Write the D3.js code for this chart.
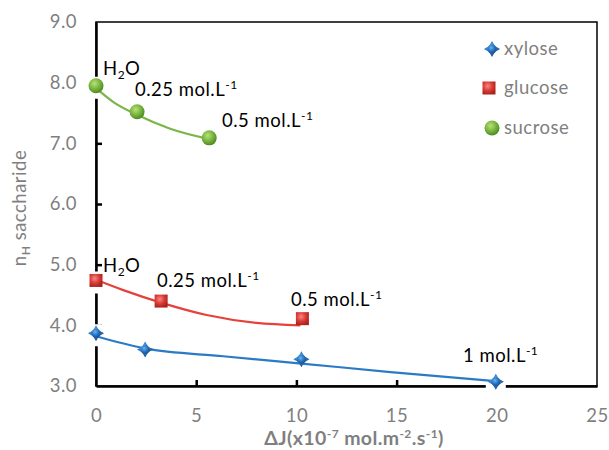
<!DOCTYPE html>
<html><head><meta charset="utf-8">
<script src="https://cdn.jsdelivr.net/npm/d3@7/dist/d3.min.js"></script>
<style>body{margin:0;background:#fff}svg{display:block}text{font-family:Lato,"Open Sans",sans-serif}</style>
</head><body><div id="chart"></div>
<script>
const xTicks = [0, 5, 10, 15, 20, 25];
const yTicks = [3, 4, 5, 6, 7, 8, 9];
const seriesNames = ["xylose", "glucose", "sucrose"];
const xyloseX = [0, 2.45, 10.25, 19.95];
const xyloseY = [3.87, 3.60, 3.44, 3.07];
const glucoseX = [0, 3.25, 10.3];
const glucoseY = [4.74, 4.40, 4.11];
const sucroseX = [0, 2.05, 5.65];
const sucroseY = [7.95, 7.52, 7.09];
// trendline values
const xyloseTrendX = [0, 2.45, 6.35, 10.25, 14.7, 19.95];
const xyloseTrendY = [3.82, 3.62, 3.49, 3.37, 3.23, 3.08];
const glucoseTrendX = [0, 1.36, 3.28, 5.52, 8.0, 10.2];
const glucoseTrendY = [4.75, 4.58, 4.37, 4.17, 4.04, 4.00];
const sucroseTrendX = [0, 0.87, 2.05, 3.7, 5.65];
const sucroseTrendY = [7.91, 7.68, 7.47, 7.24, 7.07];
const xyloseLabels = ["", "", "", "1 mol.L"];
const glucoseLabels = ["H2O", "0.25 mol.L", "0.5 mol.L"];
const sucroseLabels = ["H2O", "0.25 mol.L", "0.5 mol.L"];

const W = 609, H = 450;
const m = {l: 96, r: 12, t: 22, b: 64};
const svg = d3.select("#chart").append("svg").attr("width", W).attr("height", H);
const x = d3.scaleLinear().domain([0, 25]).range([m.l, W - m.r]);
const y = d3.scaleLinear().domain([3, 9]).range([H - m.b, m.t]);

const defs = svg.append("defs");
function grad(id, light, mid, dark) {
  const g = defs.append("radialGradient").attr("id", id).attr("cx", "40%").attr("cy", "35%").attr("r", "65%");
  g.append("stop").attr("offset", "0%").attr("stop-color", light);
  g.append("stop").attr("offset", "55%").attr("stop-color", mid);
  g.append("stop").attr("offset", "100%").attr("stop-color", dark);
}
grad("gBlue", "#6fb0ec", "#2a78c6", "#1b4f8a");
grad("gRed", "#f28a84", "#dc3b35", "#a82420");
grad("gGreen", "#b8e07a", "#7ab640", "#4f8a22");

const gray = "#7f7f7f";
const FS = 18.5, LS = 0.5;
// frame (top & right)
svg.append("rect").attr("x", x(0)).attr("y", y(9)).attr("width", x(25) - x(0)).attr("height", y(3) - y(9))
  .attr("fill", "none").attr("stroke", "#000").attr("stroke-width", 1.5);

// axes
const yAxis = d3.axisLeft(y).tickValues(yTicks).tickFormat(d3.format(".1f")).tickSizeInner(-6).tickSizeOuter(0).tickPadding(19);
const gy = svg.append("g").attr("transform", `translate(${x(0)},0)`).call(yAxis);
const xAxis = d3.axisBottom(x).tickValues(xTicks).tickFormat(d3.format("d")).tickSizeInner(-6).tickSizeOuter(0).tickPadding(23);
const gx = svg.append("g").attr("transform", `translate(0,${y(3)})`).call(xAxis);
[gx, gy].forEach(g => {
  g.select(".domain").attr("stroke", "#000").attr("stroke-width", 2.5);
  g.selectAll(".tick line").attr("stroke", "#000").attr("stroke-width", 2.5);
  g.selectAll(".tick text").attr("fill", gray).attr("font-size", FS).attr("letter-spacing", LS)
    .attr("font-family", "Lato, 'Open Sans', sans-serif");
});
gy.selectAll(".tick line").filter(d => d === 9 || d === 3).remove();
gx.selectAll(".tick line").filter(d => d === 0 || d === 25).remove();

// axis titles
const yt = svg.append("text").attr("transform", `translate(26,${(y(3)+y(9))/2 + 4}) rotate(-90)`)
  .attr("text-anchor", "middle").attr("fill", gray).attr("font-size", FS).attr("letter-spacing", LS);
yt.append("tspan").text("n");
yt.append("tspan").attr("font-size", 12).attr("dy", 4).attr("font-weight", "bold").text("H");
yt.append("tspan").attr("dy", -4).text(" saccharide");

const xt = svg.append("text").attr("x", 354).attr("y", 445).attr("text-anchor", "middle")
  .attr("fill", gray).attr("font-size", 19.5).attr("font-weight", "bold").attr("letter-spacing", 0.4);
xt.append("tspan").text("ΔJ(x10");
xt.append("tspan").attr("font-size", 12).attr("dy", -7).text("-7");
xt.append("tspan").attr("dy", 7).text(" mol.m");
xt.append("tspan").attr("font-size", 12).attr("dy", -7).text("-2");
xt.append("tspan").attr("dy", 7).text(".s");
xt.append("tspan").attr("font-size", 12).attr("dy", -7).text("-1");
xt.append("tspan").attr("dy", 7).text(")");

const series = [
  {name: "xylose", xs: xyloseX, ys: xyloseY, tx: xyloseTrendX, ty: xyloseTrendY, line: "#2b7bc4", fill: "url(#gBlue)", sym: "diamond", labels: xyloseLabels},
  {name: "glucose", xs: glucoseX, ys: glucoseY, tx: glucoseTrendX, ty: glucoseTrendY, line: "#e4423b", fill: "url(#gRed)", sym: "square", labels: glucoseLabels},
  {name: "sucrose", xs: sucroseX, ys: sucroseY, tx: sucroseTrendX, ty: sucroseTrendY, line: "#7ab648", fill: "url(#gGreen)", sym: "circle", labels: sucroseLabels}
];

function marker(g, sym, cx, cy, fill) {
  if (sym === "square") {
    g.append("rect").attr("x", cx - 6.5).attr("y", cy - 6.5).attr("width", 13).attr("height", 13).attr("fill", fill);
  } else if (sym === "circle") {
    g.append("circle").attr("cx", cx).attr("cy", cy).attr("r", 7.5).attr("fill", fill);
  } else {
    g.append("path").attr("d", `M${cx},${cy-8}L${cx+3},${cy-3}L${cx+8},${cy}L${cx+3},${cy+3}L${cx},${cy+8}L${cx-3},${cy+3}L${cx-8},${cy}L${cx-3},${cy-3}Z`).attr("fill", fill);
    g.append("circle").attr("cx", cx).attr("cy", cy).attr("r", 4.5).attr("fill", fill);
  }
}

// halos (white shadows) behind markers
series.forEach(s => {
  s.xs.forEach((v, i) => {
    svg.append("rect").attr("x", x(v) - 10).attr("y", y(s.ys[i]) - 9).attr("width", 20).attr("height", 22).attr("rx", 6).attr("fill", "#fff");
  });
});

const line = d3.line().x(d => x(d[0])).y(d => y(d[1])).curve(d3.curveMonotoneX);
series.forEach(s => {
  svg.append("path").datum(s.tx.map((v, i) => [v, s.ty[i]])).attr("d", line)
    .attr("fill", "none").attr("stroke", s.line).attr("stroke-width", 2.2);
});
series.forEach(s => {
  const g = svg.append("g");
  s.xs.forEach((v, i) => marker(g, s.sym, x(v), y(s.ys[i]), s.fill));
});

// data labels
function label(txt, lx, ly) {
  const t = svg.append("text").attr("x", lx).attr("y", ly).attr("fill", "#000").attr("font-size", FS).attr("letter-spacing", LS);
  if (txt === "H2O") {
    t.append("tspan").text("H");
    t.append("tspan").attr("font-size", 12).attr("dy", 4).text("2");
    t.append("tspan").attr("dy", -4).text("O");
  } else {
    t.append("tspan").text(txt);
    t.append("tspan").attr("font-size", 12).attr("dy", -7).text("-1");
  }
}
const labelOffsets = {
  sucrose: [[103, 75], [135, 96], [222, 127]],
  glucose: [[103, 272], [157, 287], [291, 306]],
  xylose: [null, null, null, [463, 362]]
};
series.forEach(s => {
  s.labels.forEach((lab, i) => {
    if (!lab) return;
    const o = labelOffsets[s.name][i];
    label(lab, o[0], o[1]);
  });
});

// legend
const legY = [49, 88, 128];
series.forEach((s, i) => {
  const g = svg.append("g");
  marker(g, s.sym, s.sym === "square" ? 489 : 492, legY[i], s.fill);
  g.append("text").attr("x", 504).attr("y", legY[i] + 6).attr("fill", gray).attr("font-size", FS).attr("letter-spacing", LS).text(s.name);
});
</script></body></html>
